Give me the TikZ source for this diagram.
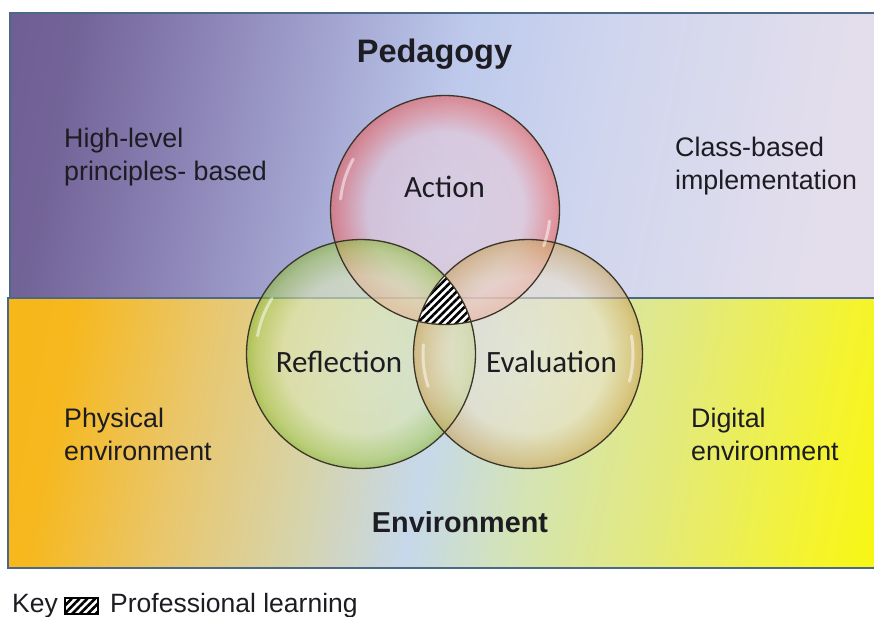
\documentclass[tikz,border=0pt]{standalone}
\usepackage{fontspec}
\setmainfont{Liberation Sans}
\newfontfamily\calibri{Carlito}
\usetikzlibrary{patterns.meta}

\definecolor{panelline}{HTML}{4B6887}
\definecolor{rimline}{HTML}{3C3628}
\definecolor{inktext}{HTML}{1C1C22}

\pgfdeclarehorizontalshading{pedshade}{100bp}{%
  color(0bp)=(rgb,255:red,85;green,65;blue,125);
  color(25bp)=(rgb,255:red,115;green,100;blue,152);
  color(34bp)=(rgb,255:red,142;green,134;blue,184);
  color(43bp)=(rgb,255:red,168;green,172;blue,214);
  color(50bp)=(rgb,255:red,190;green,202;blue,236);
  color(60bp)=(rgb,255:red,208;green,214;blue,238);
  color(75bp)=(rgb,255:red,228;green,222;blue,236);
  color(100bp)=(rgb,255:red,228;green,222;blue,236)}
\pgfdeclarehorizontalshading{envshade}{100bp}{%
  color(0bp)=(rgb,255:red,248;green,176;blue,0);
  color(25bp)=(rgb,255:red,246;green,184;blue,30);
  color(33bp)=(rgb,255:red,234;green,198;blue,105);
  color(42bp)=(rgb,255:red,214;green,212;blue,172);
  color(49bp)=(rgb,255:red,198;green,216;blue,234);
  color(56bp)=(rgb,255:red,212;green,228;blue,180);
  color(65bp)=(rgb,255:red,228;green,234;blue,120);
  color(75bp)=(rgb,255:red,245;green,244;blue,45);
  color(82bp)=(rgb,255:red,250;green,248;blue,0);
  color(100bp)=(rgb,255:red,250;green,248;blue,0)}

\pgfdeclareradialshading{actionshade}{\pgfpoint{0bp}{0bp}}{%
  color(0bp)=(rgb,255:red,228;green,208;blue,222);
  color(17bp)=(rgb,255:red,232;green,200;blue,214);
  color(23bp)=(rgb,255:red,238;green,120;blue,118);
  color(25bp)=(rgb,255:red,230;green,95;blue,95);
  color(50bp)=(rgb,255:red,230;green,95;blue,95)}
\pgfdeclareradialshading{reflectshade}{\pgfpoint{0bp}{0bp}}{%
  color(0bp)=(rgb,255:red,226;green,234;blue,196);
  color(17bp)=(rgb,255:red,220;green,232;blue,180);
  color(23bp)=(rgb,255:red,170;green,205;blue,95);
  color(25bp)=(rgb,255:red,140;green,185;blue,60);
  color(50bp)=(rgb,255:red,140;green,185;blue,60)}
\pgfdeclareradialshading{evalshade}{\pgfpoint{0bp}{0bp}}{%
  color(0bp)=(rgb,255:red,238;green,232;blue,220);
  color(17bp)=(rgb,255:red,236;green,226;blue,206);
  color(23bp)=(rgb,255:red,214;green,180;blue,120);
  color(25bp)=(rgb,255:red,200;green,160;blue,90);
  color(50bp)=(rgb,255:red,200;green,160;blue,90)}

\tikzstyle{panel} = [draw=panelline, line width=2.5pt, shading angle=-11]
\tikzstyle{title} = [font=\fontsize{32.5}{38}\selectfont\bfseries, text=inktext, anchor=base, inner sep=0pt]
\tikzstyle{side} = [font=\fontsize{26.8}{32.5}\selectfont, text=inktext, align=left, anchor=base west, inner sep=0pt]
\tikzstyle{bubble} = [circle, minimum size=229pt, inner sep=0pt, shade, fill opacity=0.6]
\tikzstyle{bubbletext} = [font=\calibri\fontsize{31}{37}\selectfont, text=inktext, anchor=base, inner sep=0pt]
\tikzstyle{rim} = [draw=rimline, line width=1.3pt]
\tikzstyle{gloss} = [white, line width=3pt, opacity=0.5, line cap=round]
\tikzstyle{hatch} = [pattern={Lines[angle=45,distance=5.5pt,line width=2.6pt]}]
\tikzstyle{keytext} = [font=\fontsize{26.5}{32}\selectfont, text=inktext, anchor=base west, inner sep=0pt]

\begin{document}
\begin{tikzpicture}[x=1pt, y=-1pt]
  \useasboundingbox (0,0) rectangle (874,616);

  % panels
  \shade[panel, shading=pedshade] (10,13) rectangle (880,298);
  \shade[panel, shading=envshade] (8,298) rectangle (880,568);

  % circles
  \node (action) at (445,210) [bubble, shading=actionshade] {};
  \node (reflection) at (361,354) [bubble, shading=reflectshade] {};
  \node (evaluation) at (528,354) [bubble, shading=evalshade] {};

  % professional learning
  \begin{scope}
    \clip (action.center) circle[radius=114.5pt];
    \clip (reflection.center) circle[radius=114.5pt];
    \fill[white] (evaluation.center) circle[radius=114.5pt];
    \fill[hatch] (evaluation.center) circle[radius=114.5pt];
  \end{scope}

  \foreach \b in {action,reflection,evaluation}
    \draw[rim] (\b.center) circle[radius=114.5pt];

  \draw[gloss] (action.center) ++(151:105pt) arc[start angle=151, end angle=174, radius=105pt];
  \draw[gloss] (action.center) ++(-20:105pt) arc[start angle=-20, end angle=-6, radius=105pt];
  \draw[gloss] (reflection.center) ++(148:105pt) arc[start angle=148, end angle=170, radius=105pt];
  \draw[gloss] (evaluation.center) ++(-15:105pt) arc[start angle=-15, end angle=10, radius=105pt];
  \draw[gloss] (evaluation.center) ++(175:105pt) arc[start angle=175, end angle=198, radius=105pt];

  % labels
  \node (pedagogy) at (434.5,62) [title] {Pedagogy};
  \node (environment) at (460,532) [title, font=\fontsize{28.8}{34}\selectfont\bfseries] {Environment};
  \node (highlevel) at (64,180) [side] {High-level\\principles- based};
  \node (classbased) at (675,189) [side] {Class-based\\implementation};
  \node (physical) at (64,460) [side] {Physical\\environment};
  \node (digital) at (691,460) [side] {Digital\\environment};

  \node (actionlbl) at (444.5,197) [bubbletext] {Action};
  \node (reflectlbl) at (339,372) [bubbletext] {Reflection};
  \node (evallbl) at (551.5,372) [bubbletext] {Evaluation};

  % key
  \node (key) at (12,612) [keytext] {Key};
  \node (keybox) at (81.5,606) [draw, line width=1.2pt, minimum width=33pt, minimum height=16pt, inner sep=0pt, preaction={fill=white}, hatch] {};
  \node (keylabel) at (110,612) [keytext] {Professional learning};
\end{tikzpicture}
\end{document}
